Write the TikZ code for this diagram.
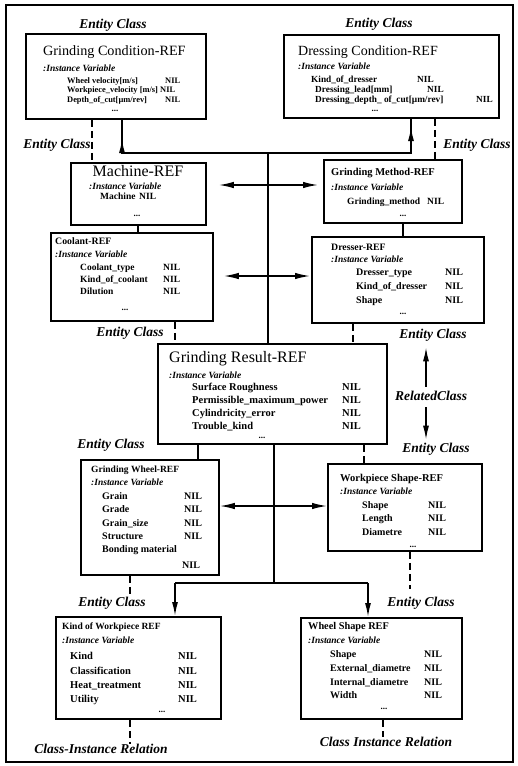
\documentclass[tikz,border=0pt]{standalone}
\usepackage{fontspec}
\setmainfont{Liberation Serif}
\usetikzlibrary{arrows.meta}
\newcommand{\fs}[1]{\fontsize{#1}{#1}\selectfont}
\begin{document}
\begin{tikzpicture}[x=1pt,y=-1pt,
  box/.style={draw,line width=1.8pt,anchor=north west,inner sep=0pt},
  tx/.code={\pgfmathsetmacro\txh{0.7*#1}\pgfmathsetmacro\txd{0.2*#1}%
    \edef\tmp{\noexpand\tikzset{anchor=west,inner sep=0pt,font=\noexpand\fs{#1},text height=\txh pt,text depth=\txd pt}}\tmp},
  rw/.style={tx=#1,font=\fs{#1}\bfseries},
  iv/.style={tx=9.5,font=\fs{9.5}\bfseries\itshape},
  lab/.style={tx=13.5,anchor=center,font=\fs{13.5}\bfseries\itshape},
  dots/.style={tx=9,anchor=center,font=\fs{9}\bfseries},
  conn/.style={line width=1.5pt},
  dsh/.style={line width=1.5pt,dash pattern=on 7pt off 4pt},
  arr/.style={line width=1.5pt,-{Latex[length=14pt,width=6pt]}},
  darr/.style={line width=1.5pt,{Latex[length=15pt,width=6.5pt]}-{Latex[length=15pt,width=6.5pt]}}
]
\useasboundingbox (0,0) rectangle (518,766);
\draw[line width=1.2pt] (6,5) rectangle (513,762);

% ---------- boxes ----------
\node[box,minimum width=180pt,minimum height=85pt] (gc) at (25,33) {};
\node[box,minimum width=215pt,minimum height=83pt] (dc) at (283,34) {};
\node[box,minimum width=135pt,minimum height=62pt] (mach) at (70,162) {};
\node[box,minimum width=138pt,minimum height=63pt] (gm) at (323,159) {};
\node[box,minimum width=162pt,minimum height=88pt] (cool) at (50,232) {};
\node[box,minimum width=172pt,minimum height=86pt] (dres) at (311,236) {};
\node[box,minimum width=229pt,minimum height=100pt] (gr) at (157,343) {};
\node[box,minimum width=138pt,minimum height=115pt] (gw) at (80,459) {};
\node[box,minimum width=154pt,minimum height=87pt] (ws) at (327,463) {};
\node[box,minimum width=165pt,minimum height=102pt] (kw) at (55,616) {};
\node[box,minimum width=161pt,minimum height=101pt] (wsh) at (300,617) {};

% ---------- Grinding Condition ----------
\node[tx=14.2] (gcT) at (43,52) {Grinding Condition-REF};
\node[iv] (gcI) at (43,69) {:Instance Variable};
\node[rw=8.4] (gcR1) at (67,81) {Wheel velocity[m/s]};
\node[rw=8.4] (gcN1) at (165,81) {NIL};
\node[rw=8.4] (gcR2) at (67,90.5) {Workpiece\_velocity [m/s]};
\node[rw=8.4] (gcN2) at (160,90.5) {NIL};
\node[rw=8.4] (gcR3) at (67,100) {Depth\_of\_cut[µm/rev]};
\node[rw=8.4] (gcN3) at (165,100) {NIL};
\node[dots] (gcD) at (115,109) {...};

% ---------- Dressing Condition ----------
\node[tx=14] (dcT) at (298,52) {Dressing Condition-REF};
\node[iv] (dcI) at (298,67) {:Instance Variable};
\node[rw=9.3] (dcR1) at (311,80) {Kind\_of\_dresser};
\node[rw=9.3] (dcN1) at (417,80) {NIL};
\node[rw=9.3] (dcR2) at (315,90) {Dressing\_lead[mm]};
\node[rw=9.3] (dcN2) at (427,90) {NIL};
\node[rw=9.3] (dcR3) at (315,100) {Dressing\_depth\_ of\_cut[µm/rev]};
\node[rw=9.3] (dcN3) at (476,100) {NIL};
\node[dots] (dcD) at (375,109) {...};

% ---------- Machine ----------
\node[tx=16,anchor=center] (machT) at (138,172) {Machine-REF};
\node[iv] (machI) at (89,187) {:Instance Variable};
\node[rw=9.5] (machR1) at (100,197) {Machine};
\node[rw=9.5] (machN1) at (139,197) {NIL};
\node[dots] (machD) at (137,214) {...};

% ---------- Grinding Method ----------
\node[rw=10.5] (gmT) at (331,173) {Grinding Method-REF};
\node[iv] (gmI) at (331,188) {:Instance Variable};
\node[rw=9.5] (gmR1) at (347,202) {Grinding\_method};
\node[rw=9.5] (gmN1) at (427,202) {NIL};
\node[dots] (gmD) at (403,214) {...};

% ---------- Coolant ----------
\node[rw=9.8] (coolT) at (55,242) {Coolant-REF};
\node[iv] (coolI) at (55,255) {:Instance Variable};
\node[rw=9.5] (coolR1) at (80,268) {Coolant\_type};
\node[rw=9.5] (coolN1) at (163,268) {NIL};
\node[rw=9.5] (coolR2) at (80,280) {Kind\_of\_coolant};
\node[rw=9.5] (coolN2) at (163,280) {NIL};
\node[rw=9.5] (coolR3) at (80,292) {Dilution};
\node[rw=9.5] (coolN3) at (163,292) {NIL};
\node[dots] (coolD) at (125,308) {...};

% ---------- Dresser ----------
\node[rw=9.8] (dresT) at (331,248) {Dresser-REF};
\node[iv] (dresI) at (331,260) {:Instance Variable};
\node[rw=10] (dresR1) at (356,273) {Dresser\_type};
\node[rw=10] (dresN1) at (445,273) {NIL};
\node[rw=10] (dresR2) at (356,287) {Kind\_of\_dresser};
\node[rw=10] (dresN2) at (445,287) {NIL};
\node[rw=10] (dresR3) at (356,301) {Shape};
\node[rw=10] (dresN3) at (445,301) {NIL};
\node[dots] (dresD) at (403,312) {...};

% ---------- Grinding Result ----------
\node[tx=16] (grT) at (169,358) {Grinding Result-REF};
\node[iv] (grI) at (169,376) {:Instance Variable};
\node[rw=10.5] (grR1) at (192,388) {Surface Roughness};
\node[rw=10.5] (grN1) at (342,388) {NIL};
\node[rw=10.5] (grR2) at (192,401) {Permissible\_maximum\_power};
\node[rw=10.5] (grN2) at (342,401) {NIL};
\node[rw=10.5] (grR3) at (192,414) {Cylindricity\_error};
\node[rw=10.5] (grN3) at (342,414) {NIL};
\node[rw=10.5] (grR4) at (192,427) {Trouble\_kind};
\node[rw=10.5] (grN4) at (342,427) {NIL};
\node[dots] (grD) at (262,436) {...};

% ---------- Grinding Wheel ----------
\node[rw=9.5] (gwT) at (91,470) {Grinding Wheel-REF};
\node[iv] (gwI) at (91,483) {:Instance Variable};
\node[rw=10] (gwR1) at (102,497) {Grain};
\node[rw=10] (gwN1) at (184,497) {NIL};
\node[rw=10] (gwR2) at (102,510) {Grade};
\node[rw=10] (gwN2) at (184,510) {NIL};
\node[rw=10] (gwR3) at (102,524) {Grain\_size};
\node[rw=10] (gwN3) at (184,524) {NIL};
\node[rw=10] (gwR4) at (102,537) {Structure};
\node[rw=10] (gwN4) at (184,537) {NIL};
\node[rw=10] (gwR5) at (102,550) {Bonding material};
\node[rw=10] (gwN5) at (182,566) {NIL};

% ---------- Workpiece Shape ----------
\node[rw=10.5] (wsT) at (340,479) {Workpiece Shape-REF};
\node[iv] (wsI) at (340,492) {:Instance Variable};
\node[rw=10] (wsR1) at (362,506) {Shape};
\node[rw=10] (wsN1) at (428,506) {NIL};
\node[rw=10] (wsR2) at (362,519) {Length};
\node[rw=10] (wsN2) at (428,519) {NIL};
\node[rw=10] (wsR3) at (362,533) {Diametre};
\node[rw=10] (wsN3) at (428,533) {NIL};
\node[dots] (wsD) at (413,545) {...};

% ---------- Kind of Workpiece ----------
\node[rw=9.5] (kwT) at (62,627) {Kind of Workpiece REF};
\node[iv] (kwI) at (62,641) {:Instance Variable};
\node[rw=10.5] (kwR1) at (70,657) {Kind};
\node[rw=10.5] (kwN1) at (178,657) {NIL};
\node[rw=10.5] (kwR2) at (70,672) {Classification};
\node[rw=10.5] (kwN2) at (178,672) {NIL};
\node[rw=10.5] (kwR3) at (70,686) {Heat\_treatment};
\node[rw=10.5] (kwN3) at (178,686) {NIL};
\node[rw=10.5] (kwR4) at (70,700) {Utility};
\node[rw=10.5] (kwN4) at (178,700) {NIL};
\node[dots] (kwD) at (162,710) {...};

% ---------- Wheel Shape ----------
\node[rw=10.3] (wshT) at (308,627) {Wheel Shape REF};
\node[iv] (wshI) at (308,641) {:Instance Variable};
\node[rw=10] (wshR1) at (330,655) {Shape};
\node[rw=10] (wshN1) at (424,655) {NIL};
\node[rw=10] (wshR2) at (330,669) {External\_diametre};
\node[rw=10] (wshN2) at (424,669) {NIL};
\node[rw=10] (wshR3) at (330,683) {Internal\_diametre};
\node[rw=10] (wshN3) at (424,683) {NIL};
\node[rw=10] (wshR4) at (330,696) {Width};
\node[rw=10] (wshN4) at (424,696) {NIL};
\node[dots] (wshD) at (384,707) {...};

% ---------- labels ----------
\node[lab] (ecTL) at (113,25) {Entity Class};
\node[lab] (ecTR) at (379,24) {Entity Class};
\node[lab] (ecL1) at (57,145) {Entity Class};
\node[lab] (ecR1) at (477,145) {Entity Class};
\node[lab] (ecL2) at (130,333) {Entity Class};
\node[lab] (ecR2) at (433,335) {Entity Class};
\node[lab] (rc) at (431,397) {RelatedClass};
\node[lab] (ecR3) at (436,449) {Entity Class};
\node[lab] (ecL3) at (111,445) {Entity Class};
\node[lab] (ecL4) at (112,603) {Entity Class};
\node[lab] (ecR4) at (421,603) {Entity Class};
\node[lab] (cirL) at (101,750) {Class-Instance Relation};
\node[lab] (cirR) at (386,743) {Class Instance Relation};

% ---------- helper coordinates ----------
\coordinate (x92) at (92,0);
\coordinate (x435) at (435,0);
\coordinate (x138) at (138,0);
\coordinate (x403) at (403,0);
\coordinate (x175) at (175,0);
\coordinate (x353) at (353,0);
\coordinate (x198) at (198,0);
\coordinate (x364) at (364,0);
\coordinate (x130) at (130,0);
\coordinate (x410) at (410,0);
\coordinate (x383) at (383,0);
\coordinate (x426) at (426,0);
\coordinate (y185) at (0,185);
\coordinate (y276) at (0,276);
\coordinate (y506) at (0,506);
\coordinate (busL) at (122,153);
\coordinate (busR) at (411,153);
\coordinate (busT) at (268,153);
\coordinate (busB) at (274,583);
\coordinate (busBL) at (175,583);
\coordinate (busBR) at (368,583);

% ---------- connectors ----------
\draw[dsh] (gc.south -| x92) -- (mach.north -| x92);
\draw[dsh] (dc.south -| x435) -- (gm.north -| x435);
\draw[conn] (gc.south -| busL) -- (busL) -- (busR) -- (dc.south -| busR);
\draw[arr] (busL) -- ++(0,-14);
\draw[arr] (busR) -- ++(0,-26);
\draw[conn] (busT) -- (gr.north -| busT);
\draw[darr,shorten <=12pt,shorten >=5pt] (mach.east |- y185) -- (gm.west |- y185);
\draw[darr,shorten <=10pt,shorten >=1pt] (cool.east |- y276) -- (dres.west |- y276);
\draw[conn] (mach.south -| x138) -- (cool.north -| x138);
\draw[conn] (gm.south -| x403) -- (dres.north -| x403);
\draw[dsh] (cool.south -| x175) -- (gr.north -| x175);
\draw[dsh] (dres.south -| x353) -- (gr.north -| x353);
\draw[arr,shorten <=4pt,shorten >=6pt] (rc.north -| x426) -- (ecR2.south -| x426);
\draw[arr,shorten <=4pt,shorten >=3pt] (rc.south -| x426) -- (ecR3.north -| x426);
\draw[conn] (gr.south -| x198) -- (gw.north -| x198);
\draw[dsh] (gr.south -| x364) -- (ws.north -| x364);
\draw[darr] (gw.east |- y506) -- (ws.west |- y506);
\draw[conn] (gr.south -| busB) -- (busB);
\draw[conn] (busBL) -- (busBR);
\draw[arr] (busBL) -- (kw.north -| busBL);
\draw[arr] (busBR) -- (wsh.north -| busBR);
\draw[dsh] (gw.south -| x130) -- (ecL4.north -| x130);
\draw[dsh,shorten >=8pt] (ws.south -| x410) -- (ecR4.north -| x410);
\draw[dsh] (kw.south -| x130) -- (cirL.north -| x130);
\draw[dsh] (wsh.south -| x383) -- (cirR.north -| x383);
\end{tikzpicture}
\end{document}
